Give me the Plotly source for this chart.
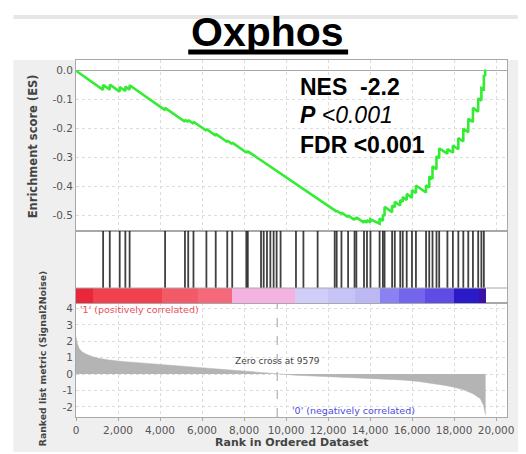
import plotly.graph_objects as go

# ---------------- data ----------------
title_text = "Oxphos"
n_genes = 19500
zero_cross = 9579

es_rank = [0, 1290, 1291, 1607, 1608, 2079, 2080, 2349, 2350, 2552, 2553,
           4240, 4241, 5186, 5187, 5342, 5343, 5592, 5593, 6207, 6208,
           6651, 6652, 7200, 7201, 7436, 7437, 8108, 8109, 8179, 8180,
           9250, 9740, 10472, 11503, 12167, 12316, 12317, 12410, 12411,
           12637, 12638, 12954, 12955, 13261, 13262, 13347, 13348, 13711, 13712,
           13852, 13853, 14018, 14019, 14373, 14453, 14454, 14609, 14610,
           14689, 14690, 14846, 15049, 15050, 15176, 15177, 15436, 15437,
           15555, 15556, 15744, 15745, 15994, 15995, 16183, 16184, 16422,
           16666, 16667, 16817, 16818, 16973, 16974, 17162, 17163, 17290, 17291,
           17526, 17682, 17683, 17942, 17943, 18202, 18203, 18439, 18440,
           18675, 18676, 18897, 18898, 19148, 19149, 19300, 19301, 19417, 19418,
           19480, 19481]
es_value = [0.000, -0.066, -0.049, -0.065, -0.048, -0.072, -0.056, -0.070, -0.055, -0.065, -0.050,
            -0.136, -0.128, -0.176, -0.169, -0.177, -0.170, -0.183, -0.176, -0.207, -0.201,
            -0.224, -0.218, -0.246, -0.241, -0.253, -0.248, -0.282, -0.278, -0.282, -0.278,
            -0.331, -0.354, -0.390, -0.441, -0.476, -0.484, -0.481, -0.486, -0.483,
            -0.494, -0.489, -0.505, -0.499, -0.515, -0.508, -0.512, -0.506, -0.524, -0.517,
            -0.524, -0.515, -0.523, -0.513, -0.524, -0.528, -0.510, -0.518, -0.497,
            -0.501, -0.470, -0.478, -0.488, -0.465, -0.471, -0.452, -0.465, -0.446,
            -0.452, -0.436, -0.446, -0.425, -0.438, -0.412, -0.422, -0.396, -0.407,
            -0.420, -0.395, -0.403, -0.365, -0.373, -0.330, -0.340, -0.295, -0.302, -0.268,
            -0.280, -0.286, -0.270, -0.283, -0.258, -0.271, -0.232, -0.244, -0.200,
            -0.212, -0.166, -0.177, -0.128, -0.141, -0.095, -0.103, -0.060, -0.064, -0.015,
            -0.018, 0.004]

hit_ranks = [1291, 1608, 2080, 2350, 2553, 4241, 5187, 5343, 5593, 6208, 6652,
             7201, 7437, 8109, 8180, 8809, 8936, 9092, 9253, 9409, 9551, 9740,
             10473, 10827, 11504, 12317, 12411, 12638, 12955, 13262, 13348, 13712,
             13853, 14019, 14454, 14610, 14690, 15050, 15177, 15437, 15556, 15745,
             15995, 16184, 16667, 16818, 16974, 17163, 17291, 17683, 17943, 18203,
             18440, 18676, 18898, 19149, 19300, 19418]

metric_rank = [0, 50, 150, 300, 500, 800, 1130, 1600, 2200, 2700, 3500, 4300,
               5100, 5860, 6600, 7430, 8100, 8700, 9200, 9579, 10000, 10430,
               11500, 12500, 13500, 14500, 15500, 16300, 16900, 17500, 18000,
               18480, 18900, 19250, 19400, 19470, 19500]
metric_value = [2.3, 1.9, 1.55, 1.35, 1.2, 1.05, 0.95, 0.85, 0.77, 0.72, 0.63, 0.55,
                0.47, 0.40, 0.31, 0.22, 0.15, 0.10, 0.05, 0.0, -0.03, -0.07,
                -0.13, -0.19, -0.23, -0.27, -0.36, -0.45, -0.55, -0.68, -0.80,
                -0.98, -1.20, -1.50, -1.90, -2.50, -2.50]

band_edges = [0, 800, 4100, 5800, 7440, 10450, 12000, 13300, 14470, 15400,
              16600, 18000, 19200, 19500]
band_colors = ["#e8283a", "#f1404e", "#f35a68", "#f46a7a", "#f3b2e0",
               "#d0cef8", "#c6c3f6", "#bcb8f4", "#8a82f2", "#7466ec",
               "#5e4ce4", "#2a1ac8", "#3a12aa"]

es_ticks = [0.0, -0.1, -0.2, -0.3, -0.4, -0.5]
es_ticktext = ["0.0", "-0.1", "-0.2", "-0.3", "-0.4", "-0.5"]
metric_ticks = [4, 3, 2, 1, 0, -1, -2]
metric_ticktext = ["4", "3", "2", "1", "0", "-1", "-2"]
x_ticks = [0, 2000, 4000, 6000, 8000, 10000, 12000, 14000, 16000, 18000, 20000]
x_ticktext = ["0", "2,000", "4,000", "6,000", "8,000", "10,000", "12,000",
              "14,000", "16,000", "18,000", "20,000"]

stats_lines = ["<b>NES\u00a0\u00a0-2.2</b>", "<b><i>P</i></b><i> &lt;0.001</i>", "<b>FDR &lt;0.001</b>"]

# ---------------- figure ----------------
# page body has an 8px margin, so the figure is drawn 8px in from the top-left
OFF = 8
W, H = 526 - OFF, 454 - OFF
ML, MR, MT, MB = 76 - OFF, 16, 60 - OFF, 37
PW, PH = W - ML - MR, H - MT - MB


def px_x(px):
    return (px - OFF - ML) / PW


def px_y(py):
    return (H + OFF - MB - py) / PH


FONT = "DejaVu Sans"
TICKC = "#555555"
LINEC = "#a8a8a8"
GRIDC = "#dcdcdc"

fig = go.Figure()

fig.add_trace(go.Scatter(x=es_rank, y=es_value, mode="lines",
                         line=dict(color="#33ec33", width=2.6),
                         xaxis="x2", yaxis="y", hoverinfo="skip"))

hx, hy = [], []
for h in hit_ranks:
    hx += [h, h, None]
    hy += [0.208, 1.0, None]
fig.add_trace(go.Scatter(x=hx, y=hy, mode="lines",
                         line=dict(color="rgba(10,10,10,0.78)", width=1.8),
                         xaxis="x3", yaxis="y2", hoverinfo="skip"))

centers = [(band_edges[i] + band_edges[i + 1]) / 2 for i in range(len(band_colors))]
widths = [band_edges[i + 1] - band_edges[i] for i in range(len(band_colors))]
fig.add_trace(go.Bar(x=centers, y=[0.208] * len(centers), width=widths, base=0,
                     marker=dict(color=band_colors, line=dict(width=0)),
                     xaxis="x3", yaxis="y2", hoverinfo="skip"))

fig.add_trace(go.Scatter(x=metric_rank, y=metric_value, mode="lines",
                         fill="tozeroy", fillcolor="#b4b4b4",
                         line=dict(color="#b4b4b4", width=0.5),
                         xaxis="x", yaxis="y3", hoverinfo="skip"))

d_bot = [0, px_y(303)]
d_mid = [px_y(303), px_y(231)]
d_top = [px_y(231), 1]

xr = [0, 20520]
common_x = dict(range=xr, showline=True, mirror=True, linecolor=LINEC, linewidth=1,
                zeroline=False)

fig.update_layout(
    width=W, height=H,
    margin=dict(l=ML, r=MR, t=MT, b=MB, pad=0),
    paper_bgcolor="white", plot_bgcolor="white",
    showlegend=False, bargap=0,
    font=dict(family=FONT, color=TICKC),
    xaxis=dict(**common_x, anchor="y3", tickvals=x_ticks, ticktext=x_ticktext,
               ticks="outside", ticklen=3, tickcolor=LINEC,
               tickfont=dict(size=10.5, color=TICKC, family=FONT),
               showgrid=True, gridcolor=GRIDC, griddash="dot"),
    xaxis2=dict(**common_x, anchor="y", matches="x", tickvals=x_ticks,
                showticklabels=False, showgrid=True, gridcolor=GRIDC, griddash="dot"),
    xaxis3=dict(**common_x, anchor="y2", matches="x", showticklabels=False,
                showgrid=False),
    yaxis=dict(domain=d_top, range=[-0.553, 0.037], tickvals=es_ticks, ticktext=es_ticktext,
               showline=True, mirror=True, linecolor=LINEC, ticks="",
               tickfont=dict(size=10.5, color=TICKC, family=FONT),
               showgrid=True, gridcolor=GRIDC, griddash="dot",
               zeroline=True, zerolinecolor="#a8a8a8", zerolinewidth=1.2),
    yaxis2=dict(domain=d_mid, range=[0, 1], showticklabels=False, showgrid=False,
                zeroline=False, showline=True, mirror=True, linecolor=LINEC, ticks=""),
    yaxis3=dict(domain=d_bot, range=[-2.62, 4.33], tickvals=metric_ticks,
                ticktext=metric_ticktext, showline=True, mirror=True, linecolor=LINEC,
                ticks="", tickfont=dict(size=10.5, color=TICKC, family=FONT),
                showgrid=True, gridcolor=GRIDC, griddash="dot", zeroline=False),
)

shapes = [
    dict(type="rect", xref="paper", yref="paper", x0=px_x(13), x1=px_x(521),
         y0=px_y(452), y1=px_y(60), fillcolor="#efefef", line=dict(width=0), layer="below"),
    dict(type="rect", xref="paper", yref="paper", x0=px_x(13), x1=px_x(521),
         y0=px_y(19), y1=px_y(15), fillcolor="#e6e6e6", line=dict(width=0), layer="below"),
    dict(type="rect", xref="paper", yref="paper", x0=0, x1=1, y0=0, y1=1,
         fillcolor="white", line=dict(width=0), layer="below"),
    dict(type="line", xref="x3 domain", yref="y2", x0=0, x1=1, y0=0.208, y1=0.208,
         line=dict(color=LINEC, width=1)),
    dict(type="line", xref="x", yref="y3 domain", x0=zero_cross, x1=zero_cross, y0=0, y1=1,
         line=dict(color="#a0a0a0", width=1, dash="dash")),
    dict(type="line", xref="paper", yref="paper", x0=px_x(189), x1=px_x(350),
         y0=px_y(52), y1=px_y(52), line=dict(color="black", width=5)),
]
fig.update_layout(shapes=shapes)

ann = [
    dict(text="<b>" + title_text + "</b>", xref="paper", yref="paper",
         x=px_x(269), y=px_y(31.5), xanchor="center", yanchor="middle", showarrow=False,
         borderpad=0,
         font=dict(family="Liberation Sans", size=41, color="black")),
    dict(text="<b>Enrichment score (ES)</b>", xref="paper", yref="paper",
         x=px_x(33), y=px_y(146), textangle=-90, xanchor="center", yanchor="middle",
         showarrow=False, font=dict(family=FONT, size=11.5, color="#444444")),
    dict(text="<b>Ranked list metric (Signal2Noise)</b>", xref="paper", yref="paper",
         x=px_x(42), y=px_y(358), textangle=-90, xanchor="center", yanchor="middle",
         showarrow=False, font=dict(family=FONT, size=9.3, color="#444444")),
    dict(text="<b>Rank in Ordered Dataset</b>", xref="paper", yref="paper",
         x=px_x(294), y=px_y(442), xanchor="center", yanchor="middle",
         showarrow=False, font=dict(family=FONT, size=11, color="#444444")),
    dict(text="Zero cross at " + str(zero_cross), xref="x", yref="y3",
         x=zero_cross, y=0.82, xanchor="center", yanchor="middle", showarrow=False,
         font=dict(family=FONT, size=9, color="#444444")),
    dict(text="'1' (positively correlated)", xref="x", yref="y3",
         x=100, y=3.95, xanchor="left", yanchor="middle", showarrow=False,
         font=dict(family=FONT, size=9.5, color="#e8505c")),
    dict(text="'0' (negatively correlated)", xref="x", yref="y3",
         x=13190, y=-2.2, xanchor="center", yanchor="middle", showarrow=False,
         font=dict(family=FONT, size=9.5, color="#4b4be0")),
]
for txt, py in zip(stats_lines, [87, 115, 145]):
    ann.append(dict(text=txt, xref="paper", yref="paper", x=px_x(300), y=px_y(py),
                    xanchor="left", yanchor="middle", showarrow=False,
                    font=dict(family="Liberation Sans", size=23, color="black")))
fig.update_layout(annotations=ann)

fig.write_html("out.html")
